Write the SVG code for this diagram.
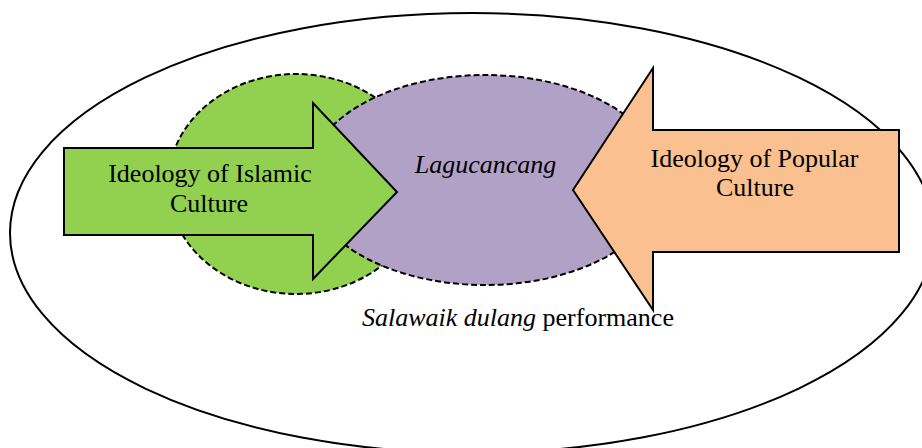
<svg xmlns="http://www.w3.org/2000/svg" width="922" height="448" viewBox="0 0 922 448">
  <style>
    .outer { fill: #ffffff; stroke: #000000; stroke-width: 2; }
    .dashed { stroke: #000000; stroke-width: 2; stroke-dasharray: 6 3; }
    .arrow { stroke: #000000; stroke-width: 2; stroke-linejoin: miter; }
    .t { font-family: "Liberation Serif", "Times New Roman", serif; font-size: 26px; fill: #000000; }
    .it { font-style: italic; }
  </style>
  <rect x="0" y="0" width="922" height="448" fill="#ffffff"/>
  <g id="context">
    <ellipse class="outer" cx="472" cy="233" rx="462" ry="220"/>
    <text class="t" x="362" y="326"><tspan class="it">Salawaik dulang</tspan> performance</text>
  </g>
  <g id="islamic-circle">
    <ellipse class="dashed" fill="#92D050" cx="296" cy="184" rx="128" ry="110"/>
  </g>
  <g id="lagucancang">
    <ellipse class="dashed" fill="#B2A1C7" cx="485" cy="180" rx="178" ry="105"/>
    <text class="t it" x="485.5" y="173" text-anchor="middle">Lagucancang</text>
  </g>
  <g id="islamic-arrow">
    <polygon class="arrow" fill="#92D050" points="64,148 313,148 313,103 397,192 313,279 313,235 64,235"/>
    <text class="t" x="210" y="182" text-anchor="middle">Ideology of Islamic</text>
    <text class="t" x="209" y="212" text-anchor="middle">Culture</text>
  </g>
  <g id="popular-arrow">
    <polygon class="arrow" fill="#FAC090" points="899,130 653,130 653,68 573,190 653,310 653,252 899,252"/>
    <text class="t" x="754.5" y="167" text-anchor="middle">Ideology of Popular</text>
    <text class="t" x="755" y="196" text-anchor="middle">Culture</text>
  </g>
  <g id="connectors"/>
</svg>
